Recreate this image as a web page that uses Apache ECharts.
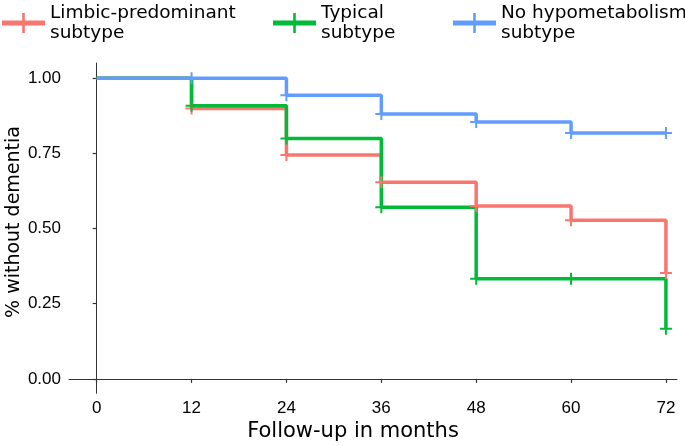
<!DOCTYPE html>
<html>
<head>
<meta charset="utf-8">
<script src="https://cdn.jsdelivr.net/npm/echarts@6/dist/echarts.min.js"></script>
<style>
html,body{margin:0;padding:0;background:#fff;}
#chart{width:685px;height:446px;}
</style>
</head>
<body>
<div id="chart"></div>
<script>
// ---- data ----
var months = [0, 12, 24, 36, 48, 60, 72];
var limbicValues = [1, 0.90, 0.745, 0.654, 0.575, 0.528, 0.352];
var typicalValues = [1, 0.909, 0.80, 0.571, 0.333, 0.333, 0.167];
var noHypoValues = [1, 1, 0.944, 0.881, 0.855, 0.818, 0.818];
var seriesNames = ['Limbic-predominant\nsubtype', 'Typical\nsubtype', 'No hypometabolism\nsubtype'];
var xTicks = [0, 12, 24, 36, 48, 60, 72];
var yTicks = [0, 0.25, 0.5, 0.75, 1];
var xTitle = 'Follow-up in months';
var yTitle = '% without dementia';

var colors = ['#F8766D', '#00BA38', '#619CFF'];
var plusPath = 'path://M5,0h2v5h5v2h-5v5h-2v-5h-5v-2h5z';
var legendIcon = 'path://M0,7.5h43v5h-43z M20.2,0h2.6v20h-2.6z';

function buildData(vals) {
  return months.map(function (m, i) {
    var item = { value: [m, vals[i]] };
    if (i === 0) item.symbol = 'none';
    return item;
  });
}

function makeSeries(name, vals, color) {
  return {
    name: name,
    type: 'line',
    step: 'end',
    data: buildData(vals),
    symbol: plusPath,
    symbolSize: 12,
    showSymbol: true,
    showAllSymbol: true,
    lineStyle: { color: color, width: 3.5 },
    itemStyle: { color: color, borderWidth: 0 },
    emphasis: { disabled: true },
    animation: false
  };
}

var allVals = [limbicValues, typicalValues, noHypoValues];
var legendLefts = [2, 273, 453];
var textFont = 'DejaVu Sans, Verdana, sans-serif';
var tickFont = '"Liberation Sans", Arial, Helvetica, sans-serif';

var chart = echarts.init(document.getElementById('chart'), null, { renderer: 'canvas' });
chart.setOption({
  backgroundColor: '#ffffff',
  animation: false,
  legend: seriesNames.map(function (n, i) {
    return {
      data: [{ name: n, icon: legendIcon }],
      left: legendLefts[i],
      top: 3,
      itemWidth: 43,
      itemHeight: 20,
      itemGap: 0,
      selectedMode: false,
      textStyle: {
        fontFamily: textFont,
        fontSize: 18.5,
        lineHeight: 20,
        color: '#000',
        padding: [0, 0, 0, 0]
      },
      padding: 0
    };
  }),
  grid: { left: 69, right: 8, top: 63, bottom: 52.7, containLabel: false },
  xAxis: {
    type: 'value',
    min: -3.5,
    max: 73.4,
    splitLine: { show: false },
    axisLine: { show: true, lineStyle: { color: '#333', width: 1 } },
    axisTick: { show: true, length: 4, customValues: xTicks, lineStyle: { color: '#333', width: 1.2 } },
    axisLabel: {
      customValues: xTicks,
      margin: 7,
      fontFamily: tickFont,
      fontSize: 17,
      color: '#000'
    }
  },
  yAxis: {
    type: 'value',
    min: -0.048,
    max: 1.051,
    splitLine: { show: false },
    axisLine: { show: true, lineStyle: { color: '#333', width: 1 } },
    axisTick: { show: true, length: 4, customValues: yTicks, lineStyle: { color: '#333', width: 1.2 } },
    axisLabel: {
      customValues: yTicks,
      margin: 8,
      fontFamily: tickFont,
      fontSize: 17,
      color: '#000',
      formatter: function (v) { return v.toFixed(2); }
    }
  },
  graphic: [
    {
      type: 'text',
      x: 353,
      y: 432,
      style: {
        text: xTitle,
        fontFamily: textFont,
        fontSize: 21,
        fill: '#000',
        align: 'center',
        verticalAlign: 'middle'
      }
    },
    {
      type: 'text',
      x: 14,
      y: 222,
      rotation: Math.PI / 2,
      style: {
        text: yTitle,
        fontFamily: textFont,
        fontSize: 19,
        fill: '#000',
        align: 'center',
        verticalAlign: 'middle'
      }
    }
  ],
  series: seriesNames.map(function (n, i) { return makeSeries(n, allVals[i], colors[i]); })
});
</script>
</body>
</html>
